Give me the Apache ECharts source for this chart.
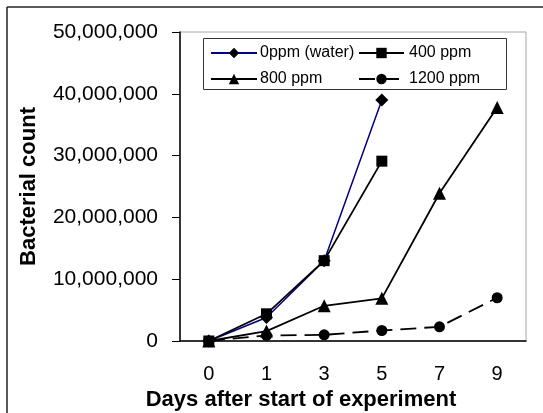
<!DOCTYPE html>
<html>
<head>
<meta charset="utf-8">
<script src="https://cdn.jsdelivr.net/npm/echarts@6/dist/echarts.min.js"></script>
<style>
html,body{margin:0;padding:0;background:#fff;}
#chart{width:543px;height:413px;}
</style>
</head>
<body>
<div id="chart"></div>
<script>
var days = ['0', '1', '3', '5', '7', '9'];
var ppm0 = [0, 3800000, 13000000, 39000000, null, null];
var ppm400 = [0, 4400000, 13000000, 29100000, null, null];
var ppm800 = [0, 1600000, 5700000, 6900000, 23900000, 37800000];
var ppm1200 = [0, 900000, 1000000, 1700000, 2300000, 7000000];
var yTicks = [0, 10000000, 20000000, 30000000, 40000000, 50000000];

var font = 'Liberation Sans, Arial, sans-serif';
var chart = echarts.init(document.getElementById('chart'));
function fmt(v){ return v.toString().replace(/\B(?=(\d{3})+(?!\d))/g, ','); }

var option = {
  animation: false,
  backgroundColor: '#fff',
  textStyle: {fontFamily: font},
  grid: {left: 180, top: 32, right: 17, bottom: 72, show: true, borderColor: '#a6a6a6', borderWidth: 1, backgroundColor: 'transparent', outerBoundsMode: 'none', containLabel: false},
  legend: [
    {
      data: ['0ppm (water)', '800 ppm'],
      orient: 'vertical', left: 210, top: 45, padding: 0,
      itemWidth: 46, itemHeight: 13, itemGap: 10,
      textStyle: {fontFamily: font, fontSize: 16, color: '#000', padding: [0, 0, 0, -2]}
    },
    {
      data: ['400 ppm', '1200 ppm'],
      orient: 'vertical', left: 358, top: 45, padding: 0,
      itemWidth: 45, itemHeight: 13, itemGap: 10,
      textStyle: {fontFamily: font, fontSize: 16, color: '#000', padding: [0, 0, 0, 0]}
    }
  ],
  xAxis: {
    type: 'category', data: days, boundaryGap: true,
    name: 'Days after start of experiment', nameLocation: 'middle', nameGap: 39,
    nameTextStyle: {fontFamily: font, fontSize: 22, fontWeight: 'bold', color: '#000', padding: [0, 104, 0, 0]},
    axisLine: {lineStyle: {color: '#000', width: 1.5}},
    axisTick: {inside: true, length: 8, lineStyle: {color: '#000', width: 1}},
    axisLabel: {fontFamily: font, fontSize: 20, color: '#000', margin: 23},
    splitLine: {show: false}
  },
  yAxis: {
    type: 'value', min: 0, max: 50000000, interval: 10000000,
    name: 'Bacterial count', nameLocation: 'middle', nameGap: 140,
    nameTextStyle: {fontFamily: font, fontSize: 22, fontWeight: 'bold', color: '#000'},
    axisLine: {show: true, lineStyle: {color: '#000', width: 1.5}},
    axisTick: {show: true, inside: false, length: 8, lineStyle: {color: '#000', width: 1}},
    axisLabel: {fontFamily: font, fontSize: 21, color: '#000', margin: 22, formatter: function(v){ return fmt(v); }},
    splitLine: {show: false}
  },
  series: [
    {name: '0ppm (water)', type: 'line', data: ppm0, symbol: 'diamond', symbolSize: 13,
     itemStyle: {color: '#000'}, lineStyle: {color: '#000080', width: 1.5}, connectNulls: false},
    {name: '400 ppm', type: 'line', data: ppm400, symbol: 'rect', symbolSize: 11,
     itemStyle: {color: '#000'}, lineStyle: {color: '#000', width: 1.8}},
    {name: '800 ppm', type: 'line', data: ppm800, symbol: 'triangle', symbolSize: 13,
     itemStyle: {color: '#000'}, lineStyle: {color: '#000', width: 1.8}},
    {name: '1200 ppm', type: 'line', data: ppm1200, symbol: 'circle', symbolSize: 11,
     itemStyle: {color: '#000'}, lineStyle: {color: '#000', width: 1.8, type: [16, 8]}}
  ],
  graphic: [
    {type: 'line', shape: {x1: 7, y1: 7, x2: 543, y2: 7}, style: {stroke: '#222', lineWidth: 1.5}},
    {type: 'line', shape: {x1: 7, y1: 7, x2: 7, y2: 413}, style: {stroke: '#222', lineWidth: 1.5}},
    {type: 'rect', shape: {x: 203.5, y: 38.5, width: 303, height: 51}, style: {fill: 'none', stroke: '#333', lineWidth: 1}, z: 1}
  ]
};
chart.setOption(option);
</script>
</body>
</html>
